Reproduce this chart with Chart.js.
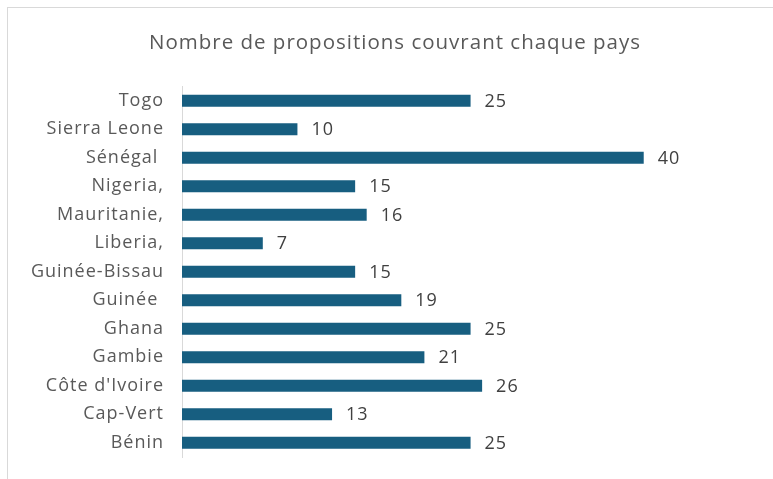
<!DOCTYPE html>
<html><head><meta charset="utf-8">
<script src="https://cdn.jsdelivr.net/npm/chart.js@4.4.1/dist/chart.umd.min.js"></script>
<style>
html,body{margin:0;padding:0;background:#fff;}
#wrap{position:absolute;left:0;top:0;width:773px;height:479px;}
#frame{position:absolute;left:7px;top:7px;width:800px;height:500px;border:1px solid #d9d9d9;box-sizing:border-box;}
canvas{position:absolute;left:0;top:0;}
</style></head>
<body>
<div id="wrap"><div id="frame"></div><canvas id="c" width="773" height="479"></canvas></div>
<script>
const categories = ["Togo","Sierra Leone","Sénégal ","Nigeria,","Mauritanie,","Liberia,","Guinée-Bissau","Guinée ","Ghana","Gambie","Côte d'Ivoire","Cap-Vert","Bénin"];
const values = [25,10,40,15,16,7,15,19,25,21,26,13,25];
const titleText = "Nombre de propositions couvrant chaque pays";
const FONT = "'Open Sans', sans-serif";

const spacingPlugin = {
  id:'spacing',
  beforeDraw(chart){ chart.ctx.letterSpacing = '1px'; }
};

const labelPlugin = {
  id:'valueLabels',
  afterDatasetsDraw(chart){
    const ctx = chart.ctx;
    const meta = chart.getDatasetMeta(0);
    ctx.save();
    ctx.letterSpacing = '1px';
    ctx.font = "18px " + FONT;
    ctx.fillStyle = "#404040";
    ctx.textAlign = "left";
    ctx.textBaseline = "middle";
    meta.data.forEach((bar,i)=>{
      ctx.fillText(String(values[i]), bar.x + 14, bar.y + 1);
    });
    ctx.restore();
  }
};

new Chart(document.getElementById('c'),{
  type:'bar',
  data:{labels:categories,datasets:[{data:values,backgroundColor:'#175e80',barPercentage:1,categoryPercentage:0.42}]},
  options:{
    indexAxis:'y',responsive:false,animation:false,
    layout:{padding:{top:21,right:0,bottom:22,left:17}},
    plugins:{
      legend:{display:false},tooltip:{enabled:false},
      title:{display:true,text:titleText,color:'#595959',font:{family:FONT,size:20.5,weight:'normal'},padding:{top:10,bottom:31}}
    },
    scales:{
      x:{display:false,min:0,max:51.2},
      y:{
        afterFit(s){s.width=165;s.paddingTop=0;s.paddingBottom=0;},
        grid:{display:false,drawTicks:false},
        border:{display:true,color:'#d9d9d9',width:1},
        ticks:{color:'#595959',font:{family:FONT,size:18},padding:18}
      }
    }
  },
  plugins:[spacingPlugin,labelPlugin]
});
</script>
</body></html>
